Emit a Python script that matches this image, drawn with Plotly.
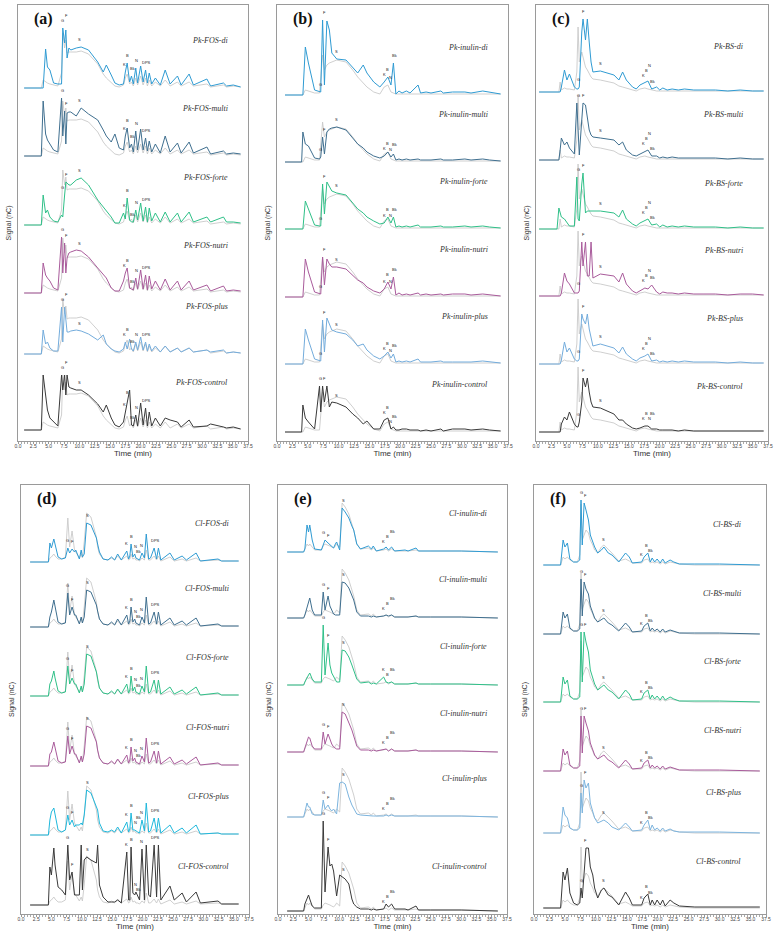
from plotly import graph_objects as go
import numpy as np

# retention times (min) and peak heights, one grid per panel
T_a = [1.0, 3.8, 4.1, 4.5, 4.8, 5.2, 5.8, 6.5, 7.1, 7.3, 7.6, 7.8, 8.0, 8.3, 8.6, 9.5, 10.3, 11.5, 13.0, 13.9,
       14.4, 15.2, 15.8, 16.5, 17.2, 17.5, 17.8, 18.2, 18.5, 18.8, 19.2, 19.5, 20.0, 20.4, 20.8, 21.1, 21.4, 21.8,
       22.4, 23.2, 24.0, 24.8, 26.0, 26.6, 27.9, 28.6, 30.8, 31.4, 33.5, 34.0, 35.1, 36.3]
a_di = [0, 0, 0, 39, 21, 18, 5, 4, 4, 60, 45, 58, 30, 40, 38, 40, 41, 38, 26, 16, 23, 13, 5, 3, 4, 16, 25, 6, 12, 4,
        20, 5, 22, 6, 18, 5, 15, 4, 10, 3, 18, 4, 12, 3, 14, 3, 9, 2, 5, 2, 3, 1]
a_multi = [0, 0, 55, 22, 16, 12, 6, 4, 58, 20, 45, 12, 43, 44, 44, 40, 48, 42, 36, 26, 20, 14, 22, 8, 6, 20, 28, 8,
           12, 4, 25, 6, 27, 6, 18, 5, 15, 4, 12, 3, 20, 4, 13, 3, 14, 3, 9, 2, 5, 2, 3, 2]
a_forte = [0, 0, 30, 12, 15, 8, 4, 3, 10, 8, 30, 43, 42, 40, 40, 45, 47, 40, 25, 18, 14, 8, 2, 2, 12, 6, 27, 5, 3, 3,
           15, 5, 22, 4, 18, 3, 17, 4, 12, 3, 13, 3, 12, 3, 13, 3, 8, 3, 8, 3, 3, 2]
a_nutri = [0, 0, 30, 18, 15, 12, 5, 3, 56, 20, 50, 20, 35, 40, 41, 43, 42, 36, 25, 18, 15, 5, 2, 2, 12, 20, 25, 5, 4,
           3, 15, 4, 23, 4, 18, 3, 17, 4, 12, 3, 14, 3, 12, 3, 12, 3, 8, 2, 7, 2, 3, 2]
a_plus = [0, 0, 24, 10, 12, 6, 3, 3, 47, 12, 47, 30, 22, 22, 23, 24, 23, 20, 14, 19, 10, 5, 3, 2, 5, 12, 5, 15, 5, 3,
          12, 4, 17, 4, 12, 3, 10, 3, 8, 2, 8, 2, 6, 2, 6, 2, 4, 2, 4, 1, 2, 1]
a_control = [0, 0, 55, 35, 20, 12, 8, 4, 55, 40, 55, 35, 55, 43, 42, 40, 40, 35, 26, 18, 25, 12, 5, 3, 8, 18, 30, 40,
             5, 4, 15, 4, 27, 5, 22, 4, 18, 4, 12, 4, 12, 10, 8, 3, 10, 3, 4, 6, 3, 2, 3, 1]
a_gray = [0, 0, 8, 6, 5, 4, 3, 2, 15, 55, 40, 48, 35, 36, 36, 36, 37, 34, 24, 14, 10, 5, 2, 1, 3, 10, 14, 4, 6, 2,
          10, 3, 12, 3, 10, 2, 8, 2, 6, 2, 8, 2, 6, 2, 6, 2, 4, 1, 3, 1, 2, 1]

T_b = [1.3, 4.0, 4.2, 4.6, 5.1, 6.1, 6.9, 7.1, 7.4, 7.7, 8.1, 8.5, 8.9, 9.7, 11.2, 12.3, 13.1, 14.0, 14.6, 15.7,
       16.7, 17.4, 18.0, 18.5, 18.9, 19.3, 19.8, 20.3, 21.0, 21.6, 22.9, 23.3, 24.2, 25.0, 26.6, 27.0, 28.5, 30.5,
       31.5, 33.4, 34.5, 36.3]
b_di = [0, 0, 0, 48, 32, 5, 3, 3, 75, 10, 74, 65, 42, 36, 35, 27, 22, 30, 22, 13, 8, 13, 18, 10, 32, 1, 4, 2, 4, 2,
        10, 2, 3, 2, 4, 2, 3, 3, 2, 4, 3, 1]
b_multi = [0, 0, 30, 18, 16, 4, 3, 5, 25, 8, 30, 33, 34, 35, 32, 24, 18, 14, 10, 6, 4, 6, 10, 5, 8, 2, 3, 2, 3, 2,
           3, 2, 2, 2, 3, 2, 2, 3, 2, 3, 2, 1]
b_forte = [0, 0, 0, 28, 20, 4, 3, 3, 45, 15, 47, 42, 38, 36, 34, 26, 20, 16, 12, 8, 5, 6, 12, 6, 12, 2, 3, 2, 3, 2,
           4, 2, 2, 2, 3, 2, 2, 3, 2, 3, 2, 1]
b_nutri = [0, 0, 0, 38, 25, 5, 3, 3, 40, 12, 38, 33, 30, 30, 28, 22, 17, 14, 10, 6, 4, 8, 15, 8, 20, 2, 4, 2, 3, 2,
           4, 2, 3, 2, 3, 2, 3, 3, 2, 3, 2, 1]
b_plus = [0, 0, 0, 35, 24, 5, 3, 3, 44, 12, 46, 40, 34, 32, 30, 24, 18, 20, 14, 8, 5, 8, 12, 6, 10, 2, 3, 2, 3, 2,
          5, 2, 2, 2, 3, 2, 2, 2, 2, 3, 2, 1]
b_control = [0, 0, 27, 14, 10, 3, 46, 20, 46, 30, 46, 25, 30, 29, 25, 18, 14, 8, 11, 3, 3, 12, 14, 3, 5, 2, 2, 3, 3,
             2, 2, 1, 2, 1, 3, 1, 3, 3, 2, 3, 2, 1]
b_gray = [0, 0, 0, 5, 4, 2, 2, 20, 40, 25, 30, 32, 33, 35, 33, 25, 18, 12, 8, 3, 1, 8, 10, 3, 2, 1, 1, 1, 1, 1, 1,
          1, 1, 1, 1, 1, 1, 1, 1, 1, 1, 1]

T_c = [0.5, 3.4, 3.7, 3.9, 4.1, 4.6, 5.0, 5.4, 6.2, 6.6, 6.8, 7.0, 7.4, 7.6, 8.0, 8.3, 8.6, 8.9, 9.2, 10.4, 12.6,
       13.4, 14.0, 14.6, 15.6, 16.2, 16.8, 17.6, 18.1, 18.7, 19.5, 20.0, 20.5, 21.2, 22.0, 23.0, 24.0, 25.5, 27.0,
       29.0, 31.0, 33.0, 35.0, 36.8]
c_di = [0, 0, 0, 0, 5, 22, 12, 18, 5, 3, 3, 5, 60, 73, 52, 73, 50, 30, 20, 21, 17, 12, 20, 12, 5, 3, 7, 9, 11, 3,
        5, 2, 4, 2, 3, 2, 3, 2, 2, 2, 1, 2, 1, 1]
c_multi = [0, 0, 0, 10, 22, 15, 18, 12, 6, 57, 20, 5, 40, 57, 55, 40, 30, 25, 23, 22, 20, 15, 18, 10, 5, 4, 6, 9,
           10, 4, 4, 2, 3, 2, 3, 2, 2, 2, 2, 2, 1, 2, 1, 1]
c_forte = [0, 0, 21, 15, 12, 10, 6, 3, 3, 52, 10, 8, 45, 56, 16, 18, 18, 18, 18, 18, 16, 12, 19, 10, 5, 3, 6, 9,
           10, 4, 5, 2, 4, 2, 3, 2, 3, 2, 2, 2, 1, 2, 1, 1]
c_nutri = [0, 0, 0, 0, 3, 23, 15, 12, 3, 3, 3, 5, 54, 30, 54, 20, 20, 54, 18, 22, 20, 14, 23, 12, 5, 3, 5, 8, 7,
           11, 4, 2, 4, 3, 3, 2, 3, 2, 2, 2, 1, 2, 2, 1]
c_plus = [0, 0, 0, 0, 4, 22, 12, 16, 5, 3, 3, 5, 50, 45, 40, 50, 35, 25, 18, 20, 16, 11, 17, 10, 5, 3, 6, 8, 10, 3,
          4, 2, 3, 2, 3, 2, 3, 2, 2, 2, 1, 2, 1, 1]
c_control = [0, 0, 0, 0, 8, 15, 12, 20, 8, 5, 5, 10, 30, 54, 45, 54, 40, 30, 25, 24, 18, 12, 12, 8, 4, 3, 4, 6, 6,
             3, 3, 2, 2, 2, 2, 1, 2, 1, 1, 1, 1, 1, 1, 1]
c_gray = [0, 0, 0, 10, 2, 4, 3, 3, 2, 20, 65, 30, 40, 35, 25, 22, 18, 15, 13, 12, 9, 6, 5, 4, 2, 1, 3, 4, 3, 2,
          1, 1, 1, 1, 1, 1, 1, 1, 1, 1, 1, 1, 1, 1]

T_d = [1.5, 4.5, 4.75, 5.0, 5.4, 5.6, 6.1, 6.7, 7.3, 7.7, 8.0, 8.4, 8.8, 9.0, 9.6, 9.9, 10.1, 10.4, 10.8, 11.5,
       12.4, 12.6, 12.9, 13.5, 14.3, 14.9, 15.4, 15.9, 16.5, 17.4, 17.7, 17.9, 18.1, 18.4, 18.7, 18.9, 19.2, 19.5,
       19.9, 20.3, 20.6, 21.0, 21.3, 21.9, 22.3, 22.6, 23.0, 24.5, 25.2, 26.5, 27.2, 28.8, 29.5, 32.4, 33.0, 35.8]
d_di = [0, 0, 19, 14, 23, 18, 5, 3, 4, 14, 9, 13, 10, 12, 3, 12, 5, 8, 39, 37, 24, 18, 10, 3, 2, 5, 2, 8, 2, 11,
        3, 6, 18, 5, 8, 4, 3, 2, 9, 4, 28, 3, 4, 14, 3, 14, 2, 9, 2, 6, 2, 9, 1, 3, 1, 1]
d_multi = [0, 0, 10, 15, 27, 20, 5, 3, 4, 34, 12, 20, 12, 12, 3, 10, 4, 10, 37, 35, 22, 16, 8, 3, 2, 5, 2, 8, 2,
           12, 3, 6, 20, 5, 8, 4, 3, 2, 10, 4, 30, 3, 4, 15, 3, 15, 2, 9, 2, 6, 2, 9, 1, 3, 1, 1]
d_forte = [0, 0, 12, 15, 25, 18, 5, 3, 4, 30, 12, 18, 12, 12, 3, 10, 4, 12, 42, 40, 24, 17, 8, 3, 2, 5, 2, 7, 2,
           12, 3, 6, 20, 5, 9, 4, 3, 2, 10, 4, 30, 3, 4, 16, 3, 16, 2, 9, 2, 6, 2, 9, 1, 3, 1, 1]
d_nutri = [0, 0, 12, 14, 24, 18, 5, 3, 4, 30, 12, 20, 12, 12, 3, 10, 4, 12, 40, 38, 24, 16, 8, 3, 2, 5, 2, 7, 2,
           11, 3, 6, 19, 5, 8, 4, 3, 2, 10, 4, 28, 3, 4, 15, 3, 15, 2, 9, 2, 6, 2, 9, 1, 3, 1, 1]
d_plus = [0, 0, 15, 23, 27, 20, 5, 3, 5, 20, 10, 15, 8, 10, 10, 12, 10, 20, 45, 42, 28, 25, 12, 4, 3, 5, 3, 8, 2,
          13, 3, 6, 22, 5, 5, 4, 3, 2, 15, 4, 32, 3, 4, 17, 3, 17, 2, 10, 2, 7, 2, 10, 1, 2, 1, 1]
d_control = [0, 0, 38, 30, 57, 40, 18, 15, 10, 60, 25, 33, 10, 10, 10, 60, 15, 45, 48, 45, 42, 60, 20, 8, 3, 3, 3,
             5, 2, 53, 5, 5, 58, 12, 10, 13, 8, 5, 56, 5, 60, 10, 8, 60, 8, 60, 5, 19, 5, 12, 3, 13, 2, 4, 1, 1]
d_gray = [0, 0, 4, 5, 8, 6, 3, 3, 5, 44, 15, 31, 12, 10, 4, 8, 4, 20, 49, 45, 25, 15, 8, 3, 2, 4, 2, 6, 2, 6, 2, 3,
          8, 3, 4, 2, 2, 1, 4, 2, 12, 2, 2, 6, 2, 6, 1, 5, 1, 3, 1, 4, 1, 2, 1, 1]

T_e = [1.5, 4.2, 4.4, 4.75, 5.0, 5.2, 5.6, 6.0, 7.1, 7.4, 7.7, 8.2, 8.5, 8.8, 9.1, 9.4, 9.6, 10.1, 10.5, 11.0,
       11.6, 12.1, 12.4, 12.9, 13.5, 14.8, 15.3, 15.6, 16.1, 17.3, 17.7, 18.1, 18.6, 19.1, 20.8, 21.3, 22.6, 23.0,
       25.0, 30.0, 36.0]
e_di = [0, 0, 3, 27, 20, 27, 12, 3, 2, 8, 12, 9, 7, 6, 4, 8, 10, 2, 44, 40, 34, 26, 22, 8, 3, 6, 3, 6, 1, 3, 5, 2,
        5, 1, 2, 1, 4, 1, 1, 1, 0]
e_multi = [0, 0, 3, 10, 15, 20, 8, 3, 3, 26, 8, 22, 12, 8, 4, 3, 3, 3, 36, 35, 30, 22, 18, 6, 2, 2, 1, 2, 1, 2, 3,
           2, 3, 1, 1, 1, 2, 1, 1, 1, 0]
e_forte = [0, 0, 3, 8, 10, 12, 6, 3, 3, 60, 10, 42, 20, 12, 8, 4, 3, 3, 35, 34, 28, 20, 15, 6, 2, 3, 1, 2, 1, 8, 3,
           2, 3, 1, 1, 1, 2, 1, 1, 1, 0]
e_nutri = [0, 0, 4, 12, 15, 14, 6, 3, 3, 20, 8, 18, 12, 8, 5, 4, 3, 3, 40, 38, 30, 22, 16, 6, 2, 2, 1, 2, 1, 2, 3,
           1, 3, 1, 1, 1, 2, 1, 1, 1, 0]
e_plus = [0, 0, 5, 14, 10, 10, 3, 2, 2, 17, 8, 12, 8, 6, 8, 5, 3, 34, 35, 33, 20, 12, 8, 3, 2, 1, 1, 1, 1, 1, 2, 1,
          2, 1, 1, 1, 1, 1, 1, 1, 0]
e_control = [0, 0, 7, 12, 16, 12, 5, 3, 3, 90, 19, 64, 45, 47, 40, 25, 15, 36, 34, 32, 27, 12, 7, 4, 2, 2, 1, 2, 1,
             2, 7, 4, 7, 2, 2, 1, 5, 1, 1, 1, 0]
e_gray = [0, 0, 3, 8, 6, 8, 5, 2, 2, 6, 8, 7, 6, 5, 4, 6, 8, 5, 49, 45, 38, 28, 22, 8, 3, 4, 2, 4, 1, 2, 3, 1, 3, 1,
          1, 1, 2, 1, 1, 1, 0]

T_f = [1.5, 4.3, 4.7, 5.0, 5.4, 5.8, 6.4, 7.0, 7.4, 7.6, 7.8, 8.1, 8.4, 8.8, 9.1, 9.5, 9.8, 10.3, 10.9, 11.3, 12.0,
       12.6, 13.7, 14.8, 15.4, 15.9, 17.4, 17.8, 18.4, 18.8, 19.1, 19.5, 19.9, 20.4, 20.8, 21.2, 22.0, 22.6, 23.5,
       26.0, 30.0, 36.5]
f_di = [0, 0, 25, 18, 22, 6, 3, 3, 5, 65, 20, 62, 55, 45, 30, 22, 18, 12, 15, 18, 12, 10, 3, 12, 8, 2, 3, 8, 12, 3,
        7, 3, 6, 2, 6, 2, 5, 3, 1, 1, 1, 0]
f_multi = [0, 0, 22, 16, 20, 6, 3, 3, 5, 55, 18, 52, 45, 40, 28, 20, 16, 12, 14, 16, 11, 9, 3, 11, 7, 2, 3, 8, 11,
           3, 6, 3, 5, 2, 5, 2, 4, 3, 1, 1, 1, 0]
f_forte = [0, 0, 25, 18, 22, 6, 3, 3, 5, 70, 20, 70, 60, 50, 32, 24, 18, 12, 15, 17, 12, 10, 3, 12, 8, 2, 3, 9, 12,
           3, 7, 3, 6, 2, 6, 2, 5, 3, 1, 1, 1, 0]
f_nutri = [0, 0, 22, 16, 20, 6, 3, 3, 5, 55, 18, 55, 48, 40, 28, 20, 16, 12, 14, 16, 11, 9, 3, 11, 7, 2, 3, 8, 11,
           3, 6, 3, 5, 2, 5, 2, 4, 3, 1, 1, 1, 0]
f_plus = [0, 0, 26, 18, 15, 5, 3, 3, 5, 40, 20, 53, 45, 50, 30, 20, 15, 10, 12, 13, 10, 6, 3, 10, 6, 2, 3, 8, 13, 3,
          8, 3, 5, 2, 5, 2, 4, 2, 1, 1, 1, 0]
f_control = [0, 0, 36, 28, 40, 15, 5, 3, 5, 20, 10, 40, 60, 60, 41, 33, 20, 10, 18, 20, 13, 11, 3, 16, 10, 3, 3, 10,
             14, 3, 8, 3, 8, 3, 8, 2, 8, 5, 2, 1, 1, 1]
f_gray = [0, 0, 8, 6, 8, 5, 3, 3, 10, 61, 25, 30, 35, 32, 25, 20, 15, 12, 18, 20, 16, 12, 4, 6, 4, 2, 2, 5, 6, 2, 3,
          2, 3, 1, 3, 1, 3, 2, 1, 0, 0, 0]

samples = ["di", "multi", "forte", "nutri", "plus", "control"]
xticks = [0, 2.5, 5, 7.5, 10, 12.5, 15, 17.5, 20, 22.5, 25, 27.5, 30, 32.5, 35, 37.5]

# peak letters: (label, time)
labels_a = [("G", 7.3), ("F", 7.9), ("S", 10.0), ("K", 17.3), ("B", 17.8), ("Bk", 18.6), ("N", 19.3), ("DPS", 20.9)]
labels_b = [("G", 7.0), ("F", 7.7), ("S", 9.7), ("K", 17.5), ("B", 18.0), ("N", 18.5), ("Bk", 19.0)]
labels_c = [("G", 6.8), ("F", 7.6), ("S", 10.4), ("K", 17.4), ("B", 17.9), ("N", 18.4), ("Bk", 18.9)]
labels_d = [("G", 7.7), ("F", 8.4), ("S", 11.0), ("K", 17.4), ("B", 18.1), ("N", 18.8), ("Bk", 19.3), ("N", 19.9),
            ("DPS", 22.2)]
labels_e = [("G", 7.5), ("F", 8.2), ("S", 10.7), ("K", 17.3), ("B", 17.9), ("Bk", 18.7)]
labels_f = [("G", 7.6), ("F", 8.4), ("S", 11.3), ("K", 17.4), ("B", 18.2), ("Bk", 18.9)]

# panel boxes in px (left, right, top, bottom) and trace baselines in px
panels = [
    ("a", "Pk-FOS", T_a, [a_di, a_multi, a_forte, a_nutri, a_plus, a_control], a_gray, labels_a,
     (18, 248, 5, 441), [88, 156, 225, 293, 354, 430], "#73acdc", 34.5, 47),
    ("b", "Pk-inulin", T_b, [b_di, b_multi, b_forte, b_nutri, b_plus, b_control], b_gray, labels_b,
     (277, 508, 5, 441), [95, 162, 229, 297, 364, 432], "#73acdc", 34.5, 47),
    ("c", "Pk-BS", T_c, [c_di, c_multi, c_forte, c_nutri, c_plus, c_control], c_gray, labels_c,
     (536, 768, 5, 441), [92, 160, 229, 296, 364, 432], "#73acdc", 33.8, 45),
    ("d", "Cl-FOS", T_d, [d_di, d_multi, d_forte, d_nutri, d_plus, d_control], d_gray, labels_d,
     (21, 249, 485, 914), [562, 627, 696, 766, 835, 905], "#1fb8dc", 34.5, 39),
    ("e", "Cl-inulin", T_e, [e_di, e_multi, e_forte, e_nutri, e_plus, e_control], e_gray, labels_e,
     (278, 507, 485, 914), [552, 618, 685, 752, 817, 911], "#7cb4de", 34.5, 39),
    ("f", "Cl-BS", T_f, [f_di, f_multi, f_forte, f_nutri, f_plus, f_control], f_gray, labels_f,
     (534, 766, 485, 914), [565, 634, 702, 771, 833, 908], "#7cb4de", 33.8, 41),
]

W, H = 775, 938
colours = ["#2f9bd3", "#3f6f8f", "#2fc088", "#a95b9b", None, "#3a3a3a"]
grey = "#c9c9c9"

fig = go.Figure()
layout = {}
annotations = []

for i, (tag, stem, T, series, gray, labels, box, baselines, plus_col, name_x, name_dy) in enumerate(panels):
    n = i + 1
    xa = "x" if n == 1 else "x%d" % n
    ya = "y" if n == 1 else "y%d" % n
    left, right, top, bottom = box
    height = bottom - top
    px_per_min = (right - left) / 37.5
    for k, vals in enumerate(series):
        off = bottom - baselines[k]
        col = colours[k] or plus_col
        fig.add_trace(go.Scatter(x=T, y=[off + v for v in gray], mode="lines", xaxis=xa, yaxis=ya,
                                 line=dict(color=grey, width=0.9), hoverinfo="skip", showlegend=False))
        fig.add_trace(go.Scatter(x=T, y=[off + v for v in vals], mode="lines", xaxis=xa, yaxis=ya,
                                 name="%s-%s" % (stem, samples[k]),
                                 line=dict(color=col, width=1), showlegend=False))
        # sample name
        annotations.append(dict(x=name_x, y=off + name_dy + (6 if k == 5 and tag in "ef" else 0), xref=xa, yref=ya,
                                text="<i>%s-%s</i>" % (stem, samples[k]), showarrow=False, xanchor="right",
                                font=dict(family="Liberation Serif", size=8, color="#333333")))
        # peak letters above the curve, nudged up when they would collide
        placed = []
        for lab, t in labels:
            near = [v for tt, v in zip(T, vals) if abs(tt - t) <= 0.35]
            y = off + (max(near) if near else float(np.interp(t, T, vals))) + 3
            w = 2.6 * len(lab) + 1.5
            moved = True
            while moved:
                moved = False
                for pt, py, pw in placed:
                    if abs(pt - t) * px_per_min < (w + pw) / 2 and abs(py - y) < 5:
                        y = py + 5
                        moved = True
            placed.append((t, y, w))
            annotations.append(dict(x=t, y=y, xref=xa, yref=ya, text=lab, showarrow=False,
                                    yanchor="bottom", font=dict(family="Liberation Sans", size=4, color="#222222")))
    annotations.append(dict(x=0.06, y=1 - 14.0 / height, xref=xa + " domain", yref=ya + " domain",
                            text="<b>(%s)</b>" % tag, showarrow=False, xanchor="left", yanchor="middle",
                            font=dict(family="Liberation Serif", size=16, color="#111111")))

    layout["xaxis" if n == 1 else "xaxis%d" % n] = dict(
        domain=[left / W, right / W], anchor=ya, range=[0, 37.5], automargin=False,
        tickvals=xticks, ticktext=["%.1f" % v for v in xticks],
        tickfont=dict(family="Liberation Sans", size=5, color="#444444"),
        ticks="outside", ticklen=2, tickcolor="#999999", ticklabelstandoff=-2,
        minor=dict(ticks="outside", ticklen=1.5, dtick=0.5, tickcolor="#aaaaaa"),
        showline=True, mirror=True, linecolor="#9a9a9a", linewidth=1,
        showgrid=False, zeroline=False,
        title=dict(text="Time (min)", font=dict(family="Liberation Sans", size=8, color="#333333"), standoff=1))
    layout["yaxis" if n == 1 else "yaxis%d" % n] = dict(
        domain=[1 - bottom / H, 1 - top / H], anchor=xa, range=[0, height], automargin=False,
        showticklabels=False, ticks="", showline=True, mirror=True, linecolor="#9a9a9a", linewidth=1,
        showgrid=False, zeroline=False,
        title=dict(text="Signal (nC)", font=dict(family="Liberation Sans", size=7, color="#333333"), standoff=4))

fig.update_layout(width=W, height=H, margin=dict(l=0, r=0, t=0, b=0, autoexpand=False), paper_bgcolor="white",
                  plot_bgcolor="white", annotations=annotations, **layout)

# page body has a default 8px margin; drop it so the figure sits at the window corner
fig.write_html("out.html", config={"displayModeBar": False},
               post_script="document.body.style.margin='0';")
